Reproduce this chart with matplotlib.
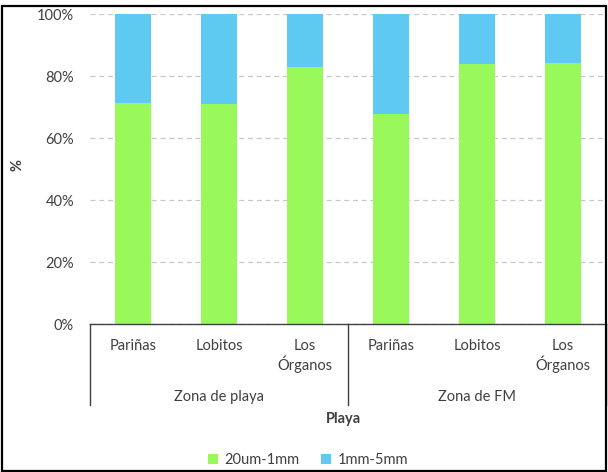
import matplotlib
matplotlib.use("Agg")
import matplotlib.pyplot as plt
from matplotlib.patches import Rectangle
from matplotlib.ticker import PercentFormatter

plt.rcParams['font.family'] = ['Lato', 'DejaVu Sans']

zonas = ['Zona de playa', 'Zona de FM']
playas = ['Pariñas', 'Lobitos', 'Los\nÓrganos', 'Pariñas', 'Lobitos', 'Los\nÓrganos']
fino = [71.5, 71.2, 83.0, 67.9, 83.9, 84.3]      # 20um-1mm
grueso = [100 - v for v in fino]                  # 1mm-5mm
series = ['20um-1mm', '1mm-5mm']
colores = ['#99F95A', '#5EC9F1']

W, H = 608, 472
fig = plt.figure(figsize=(W / 100, H / 100), dpi=100)
ax = fig.add_axes([90 / W, (H - 324.3) / H, (606 - 90) / W, 310 / H])

x = list(range(len(playas)))
ax.bar(x, fino, width=0.42, color=colores[0], label=series[0], zorder=2)
ax.bar(x, grueso, width=0.42, bottom=fino, color=colores[1], label=series[1], zorder=2)

ax.set_xlim(-0.5, len(playas) - 0.5)
ax.set_ylim(0, 100)
ax.set_yticks(range(0, 101, 20))
ax.yaxis.set_major_formatter(PercentFormatter(decimals=0))
ax.grid(axis='y', color='#c8c8c8', linestyle=(0, (4, 3)), linewidth=0.9, zorder=0)
for s in ['top', 'right', 'left']:
    ax.spines[s].set_visible(False)
ax.spines['bottom'].set_color('#404040')
ax.spines['bottom'].set_linewidth(1.0)
ax.tick_params(axis='y', length=0, pad=11.5, labelsize=10.5, labelcolor='#404040')
ax.set_xticks(x)
ax.set_xticklabels(playas, fontsize=10.5, color='#404040', linespacing=1.2)
ax.tick_params(axis='x', length=0, pad=10.5)

fig.text(18 / W, (H - 165) / H, '%', rotation=90, ha='center', va='center',
         fontsize=10.5, fontweight='bold', color='#404040')

tr = ax.get_xaxis_transform()
yb = -(405 - 324.3) / 310
for xv in [-0.5, 2.5, 5.5]:
    ax.plot([xv, xv], [0, yb], transform=tr, color='#404040', lw=1.0, clip_on=False)
for i, z in enumerate(zonas):
    ax.text(1 + 3 * i, -(397 - 324.3) / 310, z, transform=tr, ha='center', va='center',
            fontsize=10.5, color='#404040')
ax.text(0.5 * (len(playas) - 1) - 0.05, -(419 - 324.3) / 310, 'Playa', transform=tr,
        ha='center', va='center', fontsize=10.5, fontweight='bold', color='#404040')

fig.legend(loc='center', bbox_to_anchor=(308 / W, (H - 460) / H), ncol=2, frameon=False,
           fontsize=10.5, handlelength=0.7, handleheight=0.7, handletextpad=0.4,
           columnspacing=1.5, labelcolor='#404040')

fig.add_artist(Rectangle((2 / W, 1.5 / H), (604 / W), (465 / H), transform=fig.transFigure,
                         fill=False, edgecolor='black', linewidth=1.6))

fig.savefig('out.png', dpi=100)
